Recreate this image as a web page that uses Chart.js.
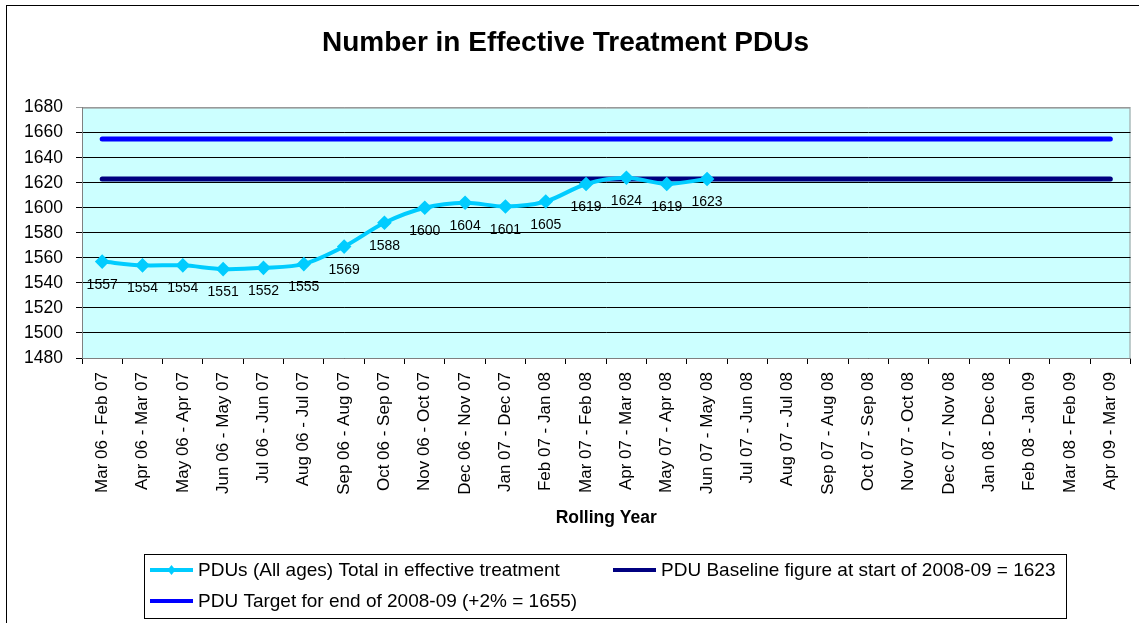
<!DOCTYPE html>
<html>
<head>
<meta charset="utf-8">
<title>Number in Effective Treatment PDUs</title>
<script src="https://cdn.jsdelivr.net/npm/chart.js@4.4.0/dist/chart.umd.min.js"></script>
<style>
  html, body { margin: 0; padding: 0; background: #fff; }
  #wrap { width: 1139px; height: 623px; }
</style>
</head>
<body>
<div id="wrap"><canvas id="pduChart" width="1139" height="623"></canvas></div>
<script>
const periods = [
  "Mar 06 - Feb 07", "Apr 06 - Mar 07", "May 06 - Apr 07", "Jun 06 - May 07",
  "Jul 06 - Jun 07", "Aug 06 - Jul 07", "Sep 06 - Aug 07", "Oct 06 - Sep 07",
  "Nov 06 - Oct 07", "Dec 06 - Nov 07", "Jan 07 - Dec 07", "Feb 07 - Jan 08",
  "Mar 07 - Feb 08", "Apr 07 - Mar 08", "May 07 - Apr 08", "Jun 07 - May 08",
  "Jul 07 - Jun 08", "Aug 07 - Jul 08", "Sep 07 - Aug 08", "Oct 07 - Sep 08",
  "Nov 07 - Oct 08", "Dec 07 - Nov 08", "Jan 08 - Dec 08", "Feb 08 - Jan 09",
  "Mar 08 - Feb 09", "Apr 09 - Mar 09",
];

const pduTotals = [
  1557, 1554, 1554, 1551, 1552, 1555, 1569, 1588, 1600, 1604, 1601, 1605, 1619,
  1624, 1619, 1623, null, null, null, null, null, null, null, null, null, null,
];

const baselineValues = [
  1623, 1623, 1623, 1623, 1623, 1623, 1623, 1623, 1623, 1623, 1623, 1623, 1623,
  1623, 1623, 1623, 1623, 1623, 1623, 1623, 1623, 1623, 1623, 1623, 1623, 1623,
];

const targetValues = [
  1655, 1655, 1655, 1655, 1655, 1655, 1655, 1655, 1655, 1655, 1655, 1655, 1655,
  1655, 1655, 1655, 1655, 1655, 1655, 1655, 1655, 1655, 1655, 1655, 1655, 1655,
];

const seriesNames = [
  "PDUs (All ages) Total in effective treatment",
  "PDU Baseline figure at start of 2008-09 = 1623",
  "PDU Target for end of 2008-09 (+2% = 1655)",
];

const yMin = 1480;
const yMax = 1680;
const yStep = 20;

const FONT = 'Arial, "Liberation Sans", sans-serif';

// background, outer frame and plot fill
const framePlugin = {
  id: "frame",
  beforeDraw(chart) {
    const { ctx, chartArea: a } = chart;
    ctx.save();
    ctx.fillStyle = "#fff";
    ctx.fillRect(0, 0, chart.width, chart.height);
    ctx.strokeStyle = "#000";
    ctx.lineWidth = 1;
    ctx.strokeRect(6.5, 5.5, chart.width + 10, chart.height + 10);
    ctx.fillStyle = "#CCFFFF";
    ctx.fillRect(a.left, a.top, a.right - a.left, a.bottom - a.top);
    ctx.strokeStyle = "#999";
    ctx.strokeRect(a.left + 0.5, a.top + 0.5, a.right - a.left - 1, a.bottom - a.top);
    ctx.restore();
  },
};

// value labels under each point of the main series
const valueLabelPlugin = {
  id: "valueLabels",
  afterDatasetsDraw(chart) {
    const { ctx } = chart;
    const meta = chart.getDatasetMeta(0);
    const data = chart.data.datasets[0].data;
    ctx.save();
    ctx.font = `14px ${FONT}`;
    ctx.fillStyle = "#000";
    ctx.textAlign = "center";
    ctx.textBaseline = "alphabetic";
    meta.data.forEach((pt, i) => {
      if (data[i] == null) return;
      ctx.fillText(String(data[i]), pt.x, pt.y + 27);
    });
    ctx.restore();
  },
};

// boxed legend at the bottom, two columns
const boxLegendPlugin = {
  id: "boxLegend",
  afterDraw(chart) {
    const { ctx } = chart;
    const ds = chart.data.datasets;
    const slots = [
      { x: 150, y: 570 },
      { x: 613, y: 570 },
      { x: 150, y: 601 },
    ];
    ctx.save();
    ctx.strokeStyle = "#000";
    ctx.lineWidth = 1;
    ctx.strokeRect(144.5, 554.5, 922, 64);
    ctx.font = `19px ${FONT}`;
    ctx.fillStyle = "#000";
    ctx.textBaseline = "middle";
    ds.forEach((d, i) => {
      const s = slots[i];
      ctx.strokeStyle = d.borderColor;
      ctx.lineWidth = 4;
      ctx.beginPath();
      ctx.moveTo(s.x, s.y);
      ctx.lineTo(s.x + 43, s.y);
      ctx.stroke();
      if (d.pointRadius > 0) {
        const cx = s.x + 21.5;
        ctx.fillStyle = d.pointBackgroundColor;
        ctx.beginPath();
        ctx.moveTo(cx, s.y - 5);
        ctx.lineTo(cx + 4, s.y);
        ctx.lineTo(cx, s.y + 5);
        ctx.lineTo(cx - 4, s.y);
        ctx.closePath();
        ctx.fill();
      }
      ctx.fillStyle = "#000";
      ctx.fillText(d.label, s.x + 48, s.y + 1);
    });
    ctx.restore();
  },
};

const ctx = document.getElementById("pduChart").getContext("2d");
new Chart(ctx, {
  type: "line",
  data: {
    labels: periods,
    datasets: [
      {
        label: seriesNames[0],
        data: pduTotals,
        borderColor: "#00CCFF",
        backgroundColor: "#00CCFF",
        pointBackgroundColor: "#00CCFF",
        pointBorderColor: "#00CCFF",
        pointStyle: "rectRot",
        pointRadius: 4.5,
        borderWidth: 4,
        tension: 0.3,
        fill: false,
        spanGaps: false,
      },
      {
        label: seriesNames[1],
        data: baselineValues,
        borderColor: "#000080",
        backgroundColor: "#000080",
        pointRadius: 0,
        borderWidth: 5,
        borderCapStyle: "round",
        fill: false,
      },
      {
        label: seriesNames[2],
        data: targetValues,
        borderColor: "#0000FF",
        backgroundColor: "#0000FF",
        pointRadius: 0,
        borderWidth: 5,
        borderCapStyle: "round",
        fill: false,
      },
    ],
  },
  options: {
    responsive: false,
    animation: false,
    devicePixelRatio: 1,
    layout: {
      padding: { left: 0, right: 8, top: 0, bottom: 0 },
    },
    plugins: {
      legend: { display: false },
      tooltip: { enabled: false },
      title: {
        display: true,
        text: "Number in Effective Treatment PDUs",
        color: "#000",
        font: { family: FONT, size: 28, weight: "bold" },
        padding: { top: 26, bottom: 48 },
      },
    },
    scales: {
      x: {
        offset: true,
        afterFit(scale) {
          scale.height = 265;
        },
        grid: {
          offset: true,
          drawOnChartArea: false,
          drawTicks: true,
          tickLength: 6,
          color: "#000",
        },
        border: { display: true, color: "#808080", width: 1 },
        ticks: {
          autoSkip: false,
          maxRotation: 90,
          minRotation: 90,
          padding: 8,
          color: "#000",
          font: { family: FONT, size: 17 },
        },
        title: {
          display: true,
          text: "Rolling Year",
          color: "#000",
          font: { family: FONT, size: 17.5, weight: "bold" },
          padding: { top: 0, bottom: 94 },
        },
      },
      y: {
        min: yMin,
        max: yMax,
        afterFit(scale) {
          scale.width = 82;
        },
        grid: {
          drawTicks: true,
          tickLength: 6,
          color: (c) => (c.tick && c.tick.value === yMax ? "#999" : "#000"),
        },
        border: { display: true, color: "#808080", width: 1 },
        ticks: {
          stepSize: yStep,
          padding: 13,
          color: "#000",
          font: { family: FONT, size: 17.5 },
          callback: (value) => String(value),
        },
      },
    },
  },
  plugins: [framePlugin, valueLabelPlugin, boxLegendPlugin],
});
</script>
</body>
</html>
